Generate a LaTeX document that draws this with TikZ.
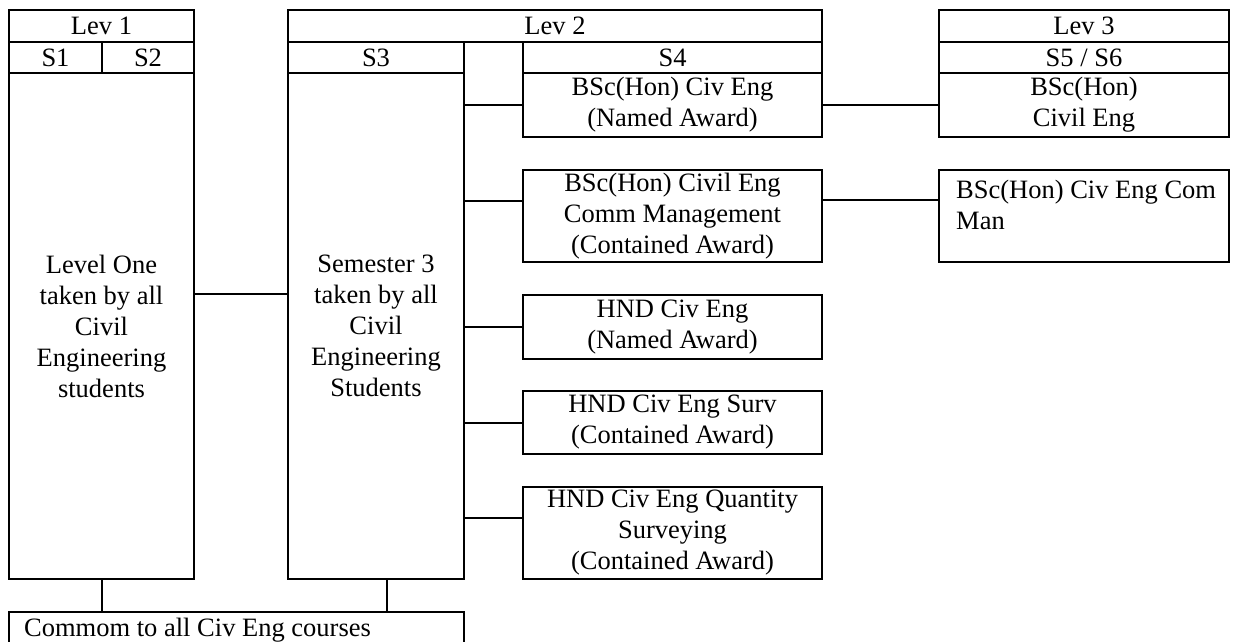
\documentclass[tikz,border=0pt]{standalone}
\usepackage{fontspec}
\setmainfont{Liberation Serif}
\usetikzlibrary{positioning}

\tikzset{
  cell/.style={draw, line width=2pt, anchor=north west, inner sep=0pt, align=center,
    font=\fontsize{26.5}{31}\selectfont},
  celltext/.style={anchor=north west, inner xsep=18pt, inner ysep=11pt, align=left,
    font=\fontsize{26.5}{31}\selectfont},
  link/.style={line width=2pt}
}

\begin{document}
\begin{tikzpicture}[x=1pt,y=1pt,yscale=-1]
\useasboundingbox (0,0) rectangle (1233,641);

% Level 1
\node[cell, minimum width=185pt, minimum height=32pt] (lev1) at (8,9) {Lev 1};
\node[cell, minimum width=93pt, minimum height=31pt] (s1) at (8,41) {S1};
\node[cell, minimum width=92pt, minimum height=31pt] (s2) at (101,41) {S2};
\node[cell, minimum width=185pt, minimum height=506pt] (lev1body) at (8,72)
  {Level One\\taken by all\\Civil\\Engineering\\students};

% Level 2
\node[cell, minimum width=534pt, minimum height=32pt] (lev2) at (287,9) {Lev 2};
\node[cell, minimum width=176pt, minimum height=31pt] (s3) at (287,41) {S3};
\node[cell, minimum width=176pt, minimum height=506pt] (s3body) at (287,72)
  {Semester 3\\taken by all\\Civil\\Engineering\\Students};
\node[cell, minimum width=299pt, minimum height=31pt] (s4) at (522,41) {S4};
\node[cell, minimum width=299pt, minimum height=64pt] (bscnamed) at (522,72)
  {BSc(Hon) Civ Eng\\(Named Award)};
\node[cell, minimum width=299pt, minimum height=92pt] (comm) at (522,169)
  {BSc(Hon) Civil Eng\\Comm Management\\(Contained Award)};
\node[cell, minimum width=299pt, minimum height=64pt] (hnd) at (522,294)
  {HND Civ Eng\\(Named Award)};
\node[cell, minimum width=299pt, minimum height=63pt] (surv) at (522,390)
  {HND Civ Eng Surv\\(Contained Award)};
\node[cell, minimum width=299pt, minimum height=92pt] (qs) at (522,486)
  {HND Civ Eng Quantity\\Surveying\\(Contained Award)};

% Level 3
\node[cell, minimum width=290pt, minimum height=32pt] (lev3) at (938,9) {Lev 3};
\node[cell, minimum width=290pt, minimum height=31pt] (s56) at (938,41) {S5 / S6};
\node[cell, minimum width=290pt, minimum height=64pt] (bsccivil) at (938,72)
  {BSc(Hon)\\Civil Eng};
\node[cell, minimum width=290pt, minimum height=92pt] (comman) at (938,169) {};
\node[celltext] (commantext) at (comman.north west) {BSc(Hon) Civ Eng Com\\Man};

% Common box (runs off the bottom)
\node[cell, minimum width=455pt, minimum height=40pt] (common) at (8,611) {};
\node[celltext, inner xsep=16pt, inner ysep=7pt] (commontext) at (common.north west)
  {Commom to all Civ Eng courses};

% Connectors
\coordinate (j1) at (240,294);
\draw[link] (lev1body.east |- j1) -- (s3body.west |- j1);
\draw[link] (s3body.east |- bscnamed) -- (bscnamed.west);
\coordinate (j2) at (490,201);
\draw[link] (s3body.east |- j2) -- (comm.west |- j2);
\draw[link] (s3body.east |- hnd) -- (hnd.west);
\draw[link] (s3body.east |- surv) -- (surv.west);
\coordinate (j3) at (490,518);
\draw[link] (s3body.east |- j3) -- (qs.west |- j3);
\draw[link] (bscnamed) -- (bsccivil);
\coordinate (j4) at (880,200);
\draw[link] (comm.east |- j4) -- (comman.west |- j4);
\draw[link] (lev1body.south) -- (lev1body.south |- common.north);
\coordinate (j5) at (387,595);
\draw[link] (s3body.south -| j5) -- (common.north -| j5);
\end{tikzpicture}
\end{document}
